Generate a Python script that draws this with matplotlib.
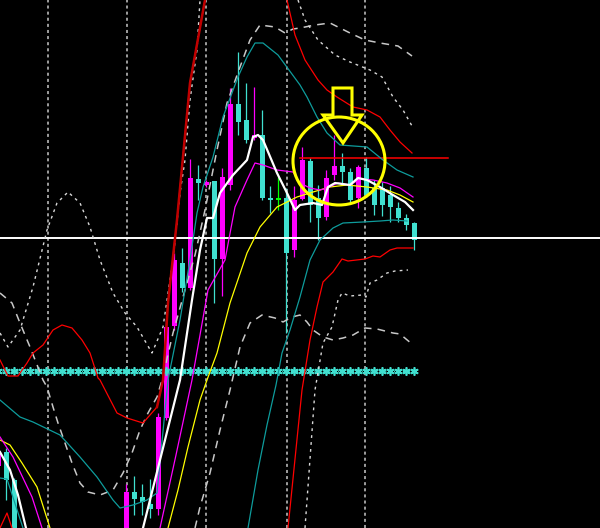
import numpy as np
import matplotlib.pyplot as plt
from matplotlib.patches import Ellipse, Polygon

# chart levels are in screen-like price units (bigger = lower on chart)
# candles: bar index, open, high, low, close
bars = [-1, 0, 1, 15, 16, 17, 18, 19, 20, 21, 22, 23, 24, 25, 26, 27, 28, 29, 30,
        31, 32, 33, 34, 35, 36, 37, 38, 39, 40, 41, 42, 43, 44, 45, 46, 47, 48, 49, 50, 51]
opens = [466, 452, 480, 540, 492, 497, 504, 509, 418, 326, 263, 288, 179, 185, 181, 259, 185, 104, 120,
         138, 135, 198, 198, 198, 250, 199, 161, 198, 217, 175, 166, 172, 198, 168, 188, 188, 195, 208, 218, 223]
highs = [450, 448, 478, 484, 476, 484, 479, 413, 319, 253, 248, 159, 165, 180, 181, 168, 88, 52, 83,
         87, 110, 186, 177, 188, 186, 147, 158, 185, 170, 135, 153, 168, 165, 157, 180, 182, 186, 202, 214, 222]
lows = [470, 500, 545, 545, 515, 515, 518, 515, 420, 330, 292, 290, 200, 187, 303, 296, 190, 135, 143,
        140, 200, 213, 210, 333, 257, 200, 222, 240, 220, 180, 183, 203, 208, 197, 215, 216, 222, 222, 230, 250]
closes = [452, 480, 540, 492, 499, 502, 509, 417, 327, 260, 288, 178, 183, 182, 259, 177, 104, 122, 140,
          135, 198, 200, 198, 253, 200, 160, 205, 218, 178, 166, 172, 200, 167, 195, 205, 205, 207, 218, 225, 240]

# fast MA (white)
wma_left_x = [0, 10, 18, 26]
wma_left_y = [452, 470, 495, 528]
wma_x = [143, 160, 180, 192, 200, 207, 213, 220, 233, 247, 253, 258, 263, 277, 287, 295, 300, 313,
         322, 328, 335, 350, 358, 367, 380, 393, 405, 413]
wma_y = [528, 460, 380, 300, 250, 218, 218, 193, 175, 160, 137, 135, 140, 173, 193, 210, 205, 203,
         205, 187, 183, 185, 178, 180, 187, 195, 202, 210]

# middle MA (magenta)
mma_left_x = [0, 13, 32, 42]
mma_left_y = [437, 457, 497, 528]
mma_x = [160, 176, 192, 208, 225, 235, 247, 255, 263, 277, 293, 300, 310, 320, 327, 338, 350,
         360, 373, 387, 400, 413]
mma_y = [528, 455, 380, 290, 260, 207, 180, 163, 165, 170, 172, 183, 188, 190, 188, 183, 185,
         179, 180, 183, 188, 197]

# slow MA (yellow)
yma_left_x = [0, 10, 22, 37, 50]
yma_left_y = [440, 445, 463, 487, 528]
yma_x = [168, 178, 188, 200, 207, 217, 230, 247, 260, 277, 297, 313, 330, 347, 367, 387, 400, 413]
yma_y = [528, 490, 447, 400, 380, 353, 303, 253, 227, 207, 197, 192, 187, 185, 187, 190, 195, 202]

# teal bands
teal_up_x = [0, 20, 33, 60, 80, 97, 113, 120, 133, 147, 157, 168, 180, 190, 197, 203, 213, 223,
             238, 247, 255, 263, 278, 300, 307, 317, 327, 340, 367, 383, 397, 413]
teal_up_y = [400, 417, 422, 435, 457, 477, 500, 508, 505, 500, 493, 380, 320, 260, 213, 187, 157, 117,
             77, 57, 43, 43, 55, 85, 97, 117, 133, 145, 147, 160, 170, 177]
teal_lo_x = [248, 258, 267, 276, 282, 290, 300, 310, 320, 333, 343, 363, 380, 393, 407]
teal_lo_y = [528, 470, 425, 385, 353, 330, 297, 260, 240, 228, 223, 222, 221, 220, 221]
teal_bl_x = [0, 7, 23]
teal_bl_y = [478, 479, 528]

# red bands
red_up_x = [0, 8, 18, 27, 33, 43, 53, 62, 72, 82, 90, 98, 100, 117, 127, 143, 157, 163,
            168, 177, 190, 205]
red_up_y = [360, 376, 376, 363, 353, 345, 330, 325, 328, 340, 353, 378, 380, 413, 418, 423, 407, 380,
            303, 220, 83, 0]
red_up2_x = [287, 295, 305, 318, 327, 337, 353, 367, 380, 390, 400, 412]
red_up2_y = [0, 35, 60, 80, 90, 97, 107, 110, 117, 130, 142, 153]
red_lo_x = [288, 302, 310, 317, 323, 333, 342, 348, 365, 373, 380, 390, 397, 413]
red_lo_y = [528, 390, 340, 307, 282, 272, 259, 261, 259, 256, 257, 250, 248, 248]
red_bl_x = [0, 7, 12]
red_bl_y = [528, 513, 528]

# dotted outer bands
dot_left_x = [0, 8, 20, 33, 47, 57, 68, 80, 90, 100, 113, 125, 137, 152, 163, 173, 180, 185,
              190, 197, 200]
dot_left_y = [333, 347, 330, 287, 230, 203, 192, 203, 227, 260, 293, 313, 327, 353, 327, 260, 193, 160,
              100, 50, 0]
dot_up_x = [298, 305, 318, 335, 350, 370, 382, 393, 403, 412]
dot_up_y = [0, 20, 40, 55, 62, 70, 77, 97, 110, 126]
dot_lo_x = [305, 315, 323, 332, 338, 342, 350, 362, 366, 370, 377, 387, 395, 408]
dot_lo_y = [528, 390, 343, 327, 300, 293, 296, 295, 297, 283, 280, 273, 271, 270]

# dashed gray bands
dash_up_x = [0, 12, 20, 30, 43, 47, 53, 58, 65, 72, 80, 88, 100, 113, 123, 132, 140, 148, 157,
             162, 173, 183, 195, 205, 217, 227, 240, 250, 260, 275, 285, 293, 300, 315, 330, 350,
             365, 380, 392, 398, 412]
dash_up_y = [293, 303, 323, 347, 380, 387, 407, 423, 443, 463, 483, 492, 495, 490, 473, 453, 430, 413, 397,
             380, 333, 297, 255, 210, 150, 103, 67, 40, 25, 27, 33, 29, 28, 25, 23, 33,
             40, 43, 45, 46, 56]
dash_lo_x = [195, 200, 210, 220, 230, 240, 250, 262, 275, 283, 292, 300, 307, 313, 323, 333, 343,
             353, 365, 377, 393, 400, 412]
dash_lo_y = [528, 507, 473, 430, 390, 347, 323, 315, 318, 322, 317, 315, 322, 330, 337, 340, 338,
             335, 328, 329, 333, 334, 344]

current_price = 238
resist_level = 158
star_level = 371
grid_x = [48, 127, 206, 287, 365]

MAGENTA = '#FF00FF'
TURQ = '#40E0D0'
TEAL = '#0E9C9C'

fig = plt.figure(figsize=(6, 5.28), dpi=100, facecolor='black')
ax = fig.add_axes([0, 0, 1, 1])
ax.set_facecolor('black')
ax.set_xlim(0, 600)
ax.set_ylim(528, 0)
ax.axis('off')

bar_x = 6 + 8 * np.array(bars)

# grid
for gx in grid_x:
    ax.axvline(gx, color='#C8C8C8', lw=1.1, ls=(0, (2, 2)), zorder=1)

# candles
for x, o, h, l, c in zip(bar_x, opens, highs, lows, closes):
    if c < o:
        col = MAGENTA
    elif c > o:
        col = TURQ
    else:
        col = '#00FF00'
    ax.vlines(x, h, l, color=col, lw=0.9, zorder=2)
    top, bot = min(o, c), max(o, c)
    ax.bar(x, max(bot - top, 1.5), bottom=top, width=5, color=col, lw=0, zorder=2)

# price line + resistance + star line
ax.axhline(current_price, color='white', lw=1.4, zorder=3)
ax.plot([300, 448], [resist_level, resist_level], color='#FF0000', lw=1.1, zorder=3)
star_x = bar_x[bar_x <= 414]
star_x = np.concatenate([np.arange(bar_x[0], 126, 8), star_x[star_x >= 126]])
ax.plot(star_x, [star_level] * len(star_x), color=TURQ, lw=0.8, ls=':',
        marker=(6, 2, 0), ms=6, mew=1.2, mec=TURQ, zorder=3)

# bands
ax.plot(dash_up_x, dash_up_y, color='#C8C8C8', lw=1.1, ls=(0, (5, 4)), zorder=3)
ax.plot(dash_lo_x, dash_lo_y, color='#C8C8C8', lw=1.1, ls=(0, (5, 4)), zorder=3)
ax.plot(dot_left_x, dot_left_y, color='#D8D8D8', lw=1.0, ls=(0, (2, 3)), zorder=3)
ax.plot(dot_up_x, dot_up_y, color='#D8D8D8', lw=1.0, ls=(0, (2, 3)), zorder=3)
ax.plot(dot_lo_x, dot_lo_y, color='#D8D8D8', lw=1.0, ls=(0, (2, 3)), zorder=3)
ax.plot(red_up_x, red_up_y, color='#FF0000', lw=0.9, zorder=3)
ax.plot(red_up_x[-6:], red_up_y[-6:], color='#C00000', lw=1.8, zorder=3)
ax.plot(red_up2_x, red_up2_y, color='#FF0000', lw=0.9, zorder=3)
ax.plot(red_lo_x, red_lo_y, color='#FF0000', lw=0.9, zorder=3)
ax.plot(red_bl_x, red_bl_y, color='#FF0000', lw=0.9, zorder=3)
ax.plot(teal_up_x, teal_up_y, color=TEAL, lw=0.9, zorder=3)
ax.plot(teal_lo_x, teal_lo_y, color=TEAL, lw=0.9, zorder=3)
ax.plot(teal_bl_x, teal_bl_y, color=TEAL, lw=0.9, zorder=3)

# moving averages
ax.plot(yma_left_x, yma_left_y, color='#FFFF00', lw=0.9, zorder=4)
ax.plot(yma_x, yma_y, color='#FFFF00', lw=0.9, zorder=4)
ax.plot(mma_left_x, mma_left_y, color=MAGENTA, lw=0.9, zorder=4)
ax.plot(mma_x, mma_y, color=MAGENTA, lw=0.9, zorder=4)
ax.plot(wma_left_x, wma_left_y, color='white', lw=1.6, zorder=4)
ax.plot(wma_x, wma_y, color='white', lw=1.6, zorder=4)

# annotation: circle + down arrow
ax.add_patch(Ellipse((339, 161), 92, 88, fill=False, ec='#FFFF00', lw=2.2, zorder=5))
arrow = [(333, 88), (352, 88), (352, 115), (362, 115), (343, 143), (323, 115), (333, 115)]
ax.add_patch(Polygon(arrow, closed=True, fill=False, ec='#FFFF00', lw=2.2, zorder=5))

fig.savefig('out.png', dpi=100, facecolor='black')
